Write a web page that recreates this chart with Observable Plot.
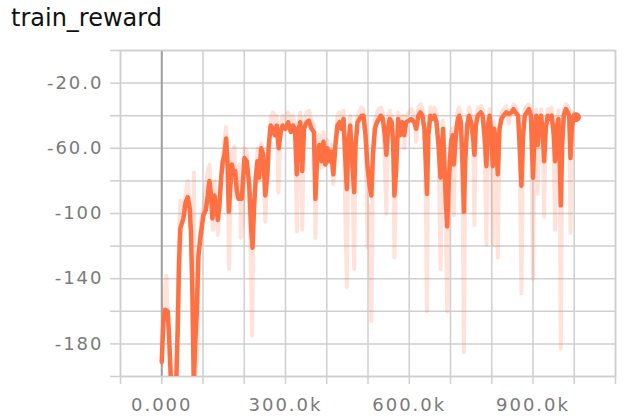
<!DOCTYPE html>
<html><head><meta charset="utf-8">
<script src="https://cdn.jsdelivr.net/npm/d3@7"></script>
<script src="https://cdn.jsdelivr.net/npm/@observablehq/plot@0.6"></script>
<style>
body{margin:0;background:#fff;}
#title{position:relative;height:40px;}
#title span{position:absolute;left:11px;top:4px;font-family:"DejaVu Sans";font-size:24px;line-height:28px;color:#111;}
#chart svg{display:block;}
</style></head><body>
<div id="title"><span>train_reward</span></div>
<div id="chart"></div>
<script>
// steps in thousands
const smoothStep = [
0,4,8,14.5,17.7,21.8,25.8,33.9,38.8,42,
45.2,52.5,58,63,67.9,71,74.3,77.6,80.8,84.9,
88.9,94.6,101,106.7,111.6,115.6,119.7,122.9,127.8,131.8,
135.9,139.9,144,148,152,156.1,159.3,162.6,165.8,169.9,
174.7,178,182,186,194,200.5,206,212,216.7,220,
224,228,232,236,241,246,251,256,259,264,
269,274,278.7,283.6,288.5,293,300,306,313,318,
323,327.5,330.8,335.6,340.5,345,351.6,356.5,363,369,
372.5,376.5,382,387,392,396.6,401.5,406,411,416,
421,426,430.8,435.7,440.6,445.4,448.7,452,456.8,461.7,
466.5,469.8,474.7,479.5,484.4,489,494,499,504,508,
512,516.8,521.7,526.5,531,536,541,544.5,548.5,552.6,
557.5,560.7,564,568,573,577.8,582.7,587.6,592.5,599,
605,612,617,622,627,631.8,636.7,640,643,646.3,
651,656,661,666,671,675.8,679,682,685.6,688.8,
692,695,698.5,701.7,705,708,711.5,714.7,718,721,
725,729,732.5,735.7,740.5,745,750,755,758,761.5,
766,773.4,778,783,787,791,795,799,802.6,805.7,
810.7,814.7,818.8,823.6,828.5,835,841.4,848,852.7,857.5,
864,868,872,876,880,885,890,895,900,904,
908,911.5,914.7,919.6,923.6,927,931,935.8,940.7,945.5,
950.4,953.6,957.6,961.7,965,967.4,970.7,974.7,979.6,984.4,
987.7,990.9,994,997.4,1003.9];
const smoothValue = [
-191,-166,-159,-160,-175,-199,-215,-215,-170,-130,
-109,-103,-93,-90,-97,-113,-150,-205,-181,-160,
-126,-113,-101,-98,-89,-80,-89,-103,-89,-95,
-104,-95,-78,-68,-64,-54,-68,-99,-85,-70,
-76,-74,-86,-91,-91,-66,-68,-82,-109,-121,
-95,-78,-68,-78,-60,-64,-89,-76,-60,-46,
-48,-52,-46,-60,-50,-46,-48,-44,-50,-46,
-48,-76,-50,-44,-74,-48,-44,-43,-48,-50,
-91,-66,-58,-68,-56,-70,-60,-68,-62,-76,
-58,-46,-44,-48,-42,-68,-85,-58,-46,-68,
-87,-58,-44,-42,-40,-40,-52,-72,-83,-89,
-64,-48,-44,-42,-40,-42,-52,-64,-48,-42,
-44,-56,-89,-74,-42,-52,-44,-52,-44,-43,
-42,-44,-48,-40,-38,-40,-48,-68,-88,-52,
-40,-42,-40,-44,-58,-78,-64,-48,-72,-93,
-108,-85,-68,-56,-52,-70,-58,-48,-42,-40,
-44,-68,-99,-68,-46,-40,-44,-54,-64,-46,
-40,-38,-40,-54,-71,-46,-40,-52,-71,-48,
-56,-76,-48,-42,-40,-38,-39,-38,-36,-38,
-40,-60,-83,-52,-40,-38,-36,-40,-78,-48,
-40,-58,-48,-40,-50,-68,-48,-40,-42,-40,
-52,-68,-48,-42,-68,-95,-58,-40,-36,-38,
-40,-66,-48,-42,-41];
const rawStep = [
0,4,8,11,15,20,25,34,38,42,
45,52,58,63,68,72,76,78,80,86,90,
95,101,106,111,116,120,124,128,133,136,
141,146,152,156,160,163,167,171,176,180,
184,188,192,197,201,206,211,216,219,223,
228,233,237,241,246,251,256,260,265,270,
275,279,283,288,293,300,306,313,318,323,
327.5,331,336,340.5,345,352,357,363,369,372.5,
377,382,387,392,397,402,406,411,416,421,
426,431,436,441,445,448.7,452,457,462,466.5,
470,475,480,484,489,494,499,504,508,512,
517,522,526,531,536,541,544.5,548.5,553,557,
561,564,568,573,578,583,588,593,599,605,
612,617,622,627,632,637,640,643,646,651,
656,661,666,671,676,679,682,686,689,692,
695,698.5,702,705,708,711.5,715,718,721,725,
729,732.5,736,740.5,745,750,755,758,761.5,766,
771,774,778,783,787,791,795,799,802.6,806,
811,814.7,819,824,828.5,835,841,848,853,857.5,
864,868,872,876,880,885,890,895,900,904,
908,911.5,915,920,924,927,931,936,941,945.5,
950,953.6,957.6,962,965,967.4,971,975,980,984,
988,991,994,997,1004];
const rawValue = [
-192,-160,-145,-138,-165,-200,-215,-215,-160,-110,
-92,-100,-88,-80,-95,-115,-160,-75,-200,-188,-120,
-105,-96,-85,-75,-70,-95,-110,-80,-100,-113,
-90,-70,-55,-47,-70,-134,-85,-62,-59,-90,
-75,-70,-115,-100,-60,-62,-85,-130,-175,-100,
-75,-60,-80,-57,-60,-105,-75,-55,-40,-38,
-47,-40,-87,-45,-40,-42,-38,-44,-40,-45,
-111,-45,-38,-110,-42,-38,-37,-43,-45,-115,
-65,-52,-72,-50,-70,-55,-66,-58,-82,-55,
-40,-38,-44,-37,-100,-145,-55,-40,-75,-134,
-55,-40,-37,-35,-36,-48,-121,-95,-166,-60,
-43,-38,-36,-35,-38,-70,-100,-42,-37,-40,
-55,-127,-80,-38,-47,-40,-60,-40,-38,-36,
-40,-56,-35,-33,-36,-45,-90,-160,-50,-35,
-38,-35,-40,-60,-134,-62,-43,-80,-110,-160,
-82,-64,-50,-48,-101,-55,-43,-37,-35,-40,
-80,-185,-64,-42,-35,-40,-60,-107,-42,-35,
-37,-34,-36,-60,-119,-42,-36,-60,-119,-44,
-60,-127,-44,-38,-36,-34,-45,-36,-33,-35,
-40,-70,-149,-48,-36,-34,-33,-37,-140,-44,
-36,-88,-44,-36,-55,-102,-44,-36,-38,-35,
-60,-110,-44,-37,-80,-183,-55,-36,-33,-34,
-36,-112,-44,-38,-40];

const xGridTicks = [-100,0,100,200,300,400,500,600,700,800,900,1000,1100];
const xLabelTicks = [0,300,600,900];
const xLabelText = ["0.000","300.0k","600.0k","900.0k"];
const yGridTicks = [-200,-180,-160,-140,-120,-100,-80,-60,-40,-20,0];
const yLabelTicks = [-20,-60,-100,-140,-180];
const yLabelText = ["-20.0","-60.0","-100","-140","-180"];

const smooth = smoothStep.map((s, i) => ({step: s, value: smoothValue[i]}));
const raw = rawStep.map((s, i) => ({step: s, value: rawValue[i]}));
const xLab = new Map(xLabelTicks.map((t, i) => [t, xLabelText[i]]));
const yLab = new Map(yLabelTicks.map((t, i) => [t, yLabelText[i]]));

const orange = "#FF7043";
const gridColor = "#cfcfcf";
const textColor = "#7a7a7a";

const chart = Plot.plot({
  width: 630, height: 377,
  marginTop: 10, marginBottom: 41, marginLeft: 120, marginRight: 15,
  x: {domain: [-100, 1100]},
  y: {domain: [-200, 0]},
  style: {fontFamily: "DejaVu Sans", fontSize: "18px", letterSpacing: "2px", background: "#fff", overflow: "visible"},
  marks: [
    Plot.gridX(xGridTicks, {stroke: gridColor, strokeOpacity: 1, strokeWidth: 1.5}),
    Plot.gridY(yGridTicks, {stroke: gridColor, strokeOpacity: 1, strokeWidth: 1.5}),
    Plot.ruleX([0], {stroke: "#a0a0a0", strokeWidth: 2}),
    Plot.frame({stroke: gridColor, strokeWidth: 1.5}),
    Plot.axisX(xGridTicks, {tickSize: 8, stroke: gridColor, strokeWidth: 1.5, tickFormat: () => "", label: null}),
    Plot.axisX(xLabelTicks, {tickSize: 0, tickPadding: 22, fill: textColor, tickFormat: d => xLab.get(d), label: null}),
    Plot.axisY(yGridTicks, {tickSize: 10, stroke: gridColor, strokeWidth: 1.5, tickFormat: () => "", label: null}),
    Plot.axisY(yLabelTicks, {tickSize: 0, tickPadding: 17, fill: textColor, tickFormat: d => yLab.get(d), label: null}),
    Plot.line(raw, {x: "step", y: "value", stroke: orange, strokeOpacity: 0.2, strokeWidth: 4, clip: true}),
    Plot.line(smooth, {x: "step", y: "value", stroke: orange, strokeWidth: 4.5, clip: true}),
    Plot.dot(smooth.slice(-1), {x: "step", y: "value", r: 5, fill: orange})
  ]
});
document.getElementById("chart").appendChild(chart);
</script>
</body></html>
